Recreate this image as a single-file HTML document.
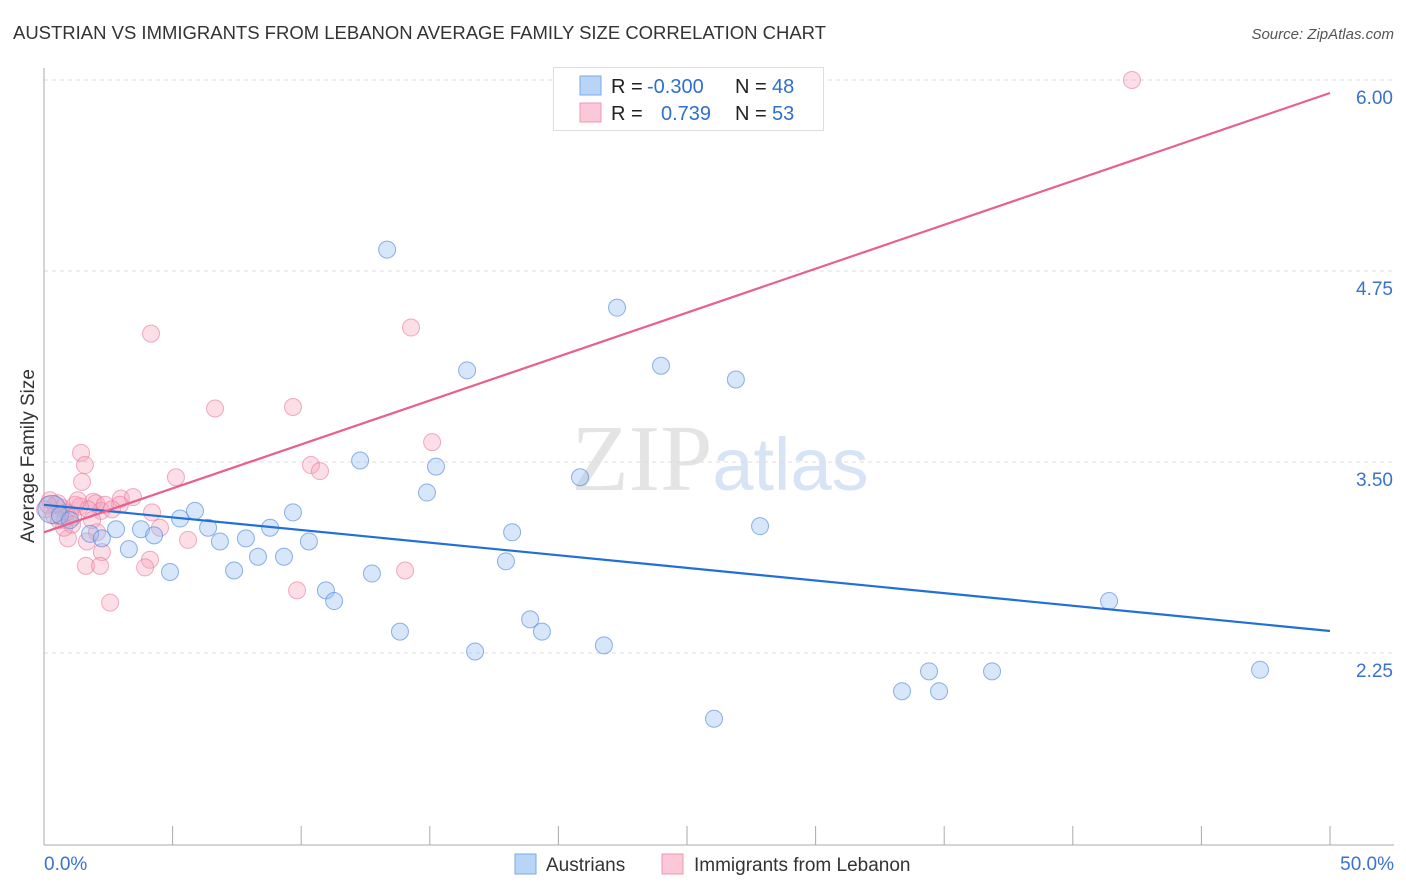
<!DOCTYPE html>
<html><head><meta charset="utf-8"><style>
body{margin:0;background:#fff;font-family:"Liberation Sans",sans-serif;}
svg{display:block}
</style></head><body>
<svg id="chart" width="1406" height="892" xmlns="http://www.w3.org/2000/svg">
<text x="13" y="39" font-size="18" fill="#333" textLength="813" lengthAdjust="spacingAndGlyphs">AUSTRIAN VS IMMIGRANTS FROM LEBANON AVERAGE FAMILY SIZE CORRELATION CHART</text>
<text x="1394" y="39" font-size="15" fill="#555" font-style="italic" text-anchor="end">Source: ZipAtlas.com</text>
<text x="720" y="490" font-size="94" text-anchor="middle" fill="#e4e4e4" font-family="Liberation Serif,serif">ZIP<tspan fill="#d6e4f5" font-family="Liberation Sans,sans-serif" font-size="74">atlas</tspan></text>
<g id="grid"></g>
<g id="axes"></g>
<g id="pts"></g>
<g id="trends"></g>
<text transform="translate(34,456) rotate(-90)" font-size="19" fill="#333" text-anchor="middle">Average Family Size</text>
<g>
<rect x="553.5" y="67.5" width="270" height="63" fill="#fff" stroke="#ddd"/>
<rect x="580" y="76" width="21" height="19" fill="#b8d4f6" stroke="#7aaae8"/>
<rect x="580" y="103" width="21" height="19" fill="#fbc8d8" stroke="#ee9ab4"/>
<text x="611" y="93" font-size="20" fill="#222">R = <tspan x="647" fill="#2f6fd0">-0.300</tspan><tspan x="735">N = </tspan><tspan x="772" fill="#2f6fd0">48</tspan></text>
<text x="611" y="120" font-size="20" fill="#222">R = <tspan x="661" fill="#2f6fd0">0.739</tspan><tspan x="735">N = </tspan><tspan x="772" fill="#2f6fd0">53</tspan></text>
</g>
<g>
<rect x="515" y="854" width="21" height="20" fill="#b8d4f6" stroke="#7aaae8"/>
<text x="546" y="871" font-size="19" fill="#333">Austrians</text>
<rect x="662" y="854" width="21" height="20" fill="#fbc8d8" stroke="#ee9ab4"/>
<text x="694" y="871" font-size="19" fill="#333">Immigrants from Lebanon</text>
</g>
</svg>
<script>
const yTicks=[6.00,4.75,3.50,2.25];
const xTickLabels=["0.0%","50.0%"];
const blueX=[13.34,22.28,16.45,23.99,26.90,12.29,15.24,20.84,14.89,18.20,27.84,5.87,5.29,6.38,9.68,3.77,2.80,4.28,1.79,2.25,3.30,6.84,7.85,8.79,10.30,8.32,9.33,17.96,4.90,7.39,12.75,10.96,11.28,41.41,18.90,19.36,13.84,21.77,16.76,34.41,36.86,47.28,33.36,34.80,26.05,0.31,0.62,1.01];
const blueY=[4.89,4.51,4.10,4.13,4.04,3.51,3.47,3.40,3.30,3.04,3.08,3.18,3.13,3.07,3.17,3.06,3.06,3.02,3.03,3.00,2.93,2.98,3.00,3.07,2.98,2.88,2.88,2.85,2.78,2.79,2.77,2.66,2.59,2.59,2.47,2.39,2.39,2.30,2.26,2.13,2.13,2.14,2.00,2.00,1.82,3.19,3.15,3.12];
const pinkX=[42.30,4.16,14.27,6.65,9.68,15.09,1.44,1.59,10.38,10.73,5.13,1.48,2.99,3.46,1.91,2.02,2.95,1.40,2.22,4.20,4.51,1.01,0.70,0.43,0.23,0.82,1.21,1.71,0.04,0.93,2.06,1.67,5.60,2.25,4.12,3.93,1.63,2.18,14.04,9.84,2.57,0.54,0.86,1.13,1.32,2.37,1.87,2.64,0.39,0.16,0.58,1.09,0.78];
const pinkY=[6.00,4.34,4.38,3.85,3.86,3.63,3.56,3.48,3.48,3.44,3.40,3.37,3.26,3.27,3.24,3.23,3.22,3.21,3.18,3.17,3.07,3.16,3.20,3.22,3.25,3.12,3.22,3.19,3.19,3.00,3.04,2.98,2.99,2.91,2.86,2.81,2.82,2.82,2.79,2.66,2.58,3.23,3.17,3.14,3.25,3.22,3.12,3.19,3.15,3.22,3.12,3.09,3.07];
const blueTrend=[3.22,2.394];
const pinkTrend=[3.04,5.915];
const NS="http://www.w3.org/2000/svg";
const X0=44,X1=1330;
function sx(v){return X0+(v/50)*(X1-X0);}
function sy(v){return 80+(6-v)*152.8;}
function mk(t,a,p){const e=document.createElementNS(NS,t);for(const k in a)e.setAttribute(k,a[k]);p.appendChild(e);return e;}
const grid=document.getElementById('grid'),axes=document.getElementById('axes');
yTicks.forEach(v=>{
 const l=mk('line',{x1:X0,x2:1394,y1:sy(v),y2:sy(v),stroke:'#ddd','stroke-dasharray':'4,4'},grid);
 
 
 const t=mk('text',{x:1393,y:sy(v)+24,'font-size':19,fill:'#3a72cf','text-anchor':'end'},axes);
 t.textContent=v.toFixed(2);
 
 
});
mk('line',{x1:X0,x2:X0,y1:68,y2:845,stroke:'#aaa'},axes);
mk('line',{x1:X0,x2:1394,y1:845,y2:845,stroke:'#aaa'},axes);
for(let i=0;i<=10;i++){const x=sx(i*5);mk('line',{x1:x,x2:x,y1:826,y2:845,stroke:'#aaa'},axes);}
const tl=mk('text',{x:44,y:870,'font-size':19,fill:'#3a72cf'},axes);tl.textContent=xTickLabels[0];


const tr=mk('text',{x:1394,y:870,'font-size':19,fill:'#3a72cf','text-anchor':'end'},axes);tr.textContent=xTickLabels[1];


const pts=document.getElementById('pts');
pinkX.forEach((v,i)=>{
 const c=mk('circle',{cx:sx(v),cy:sy(pinkY[i]),r:8.5,fill:'rgba(246,160,186,0.35)',stroke:'rgba(232,120,156,0.6)','stroke-width':1},pts);
 
 
});
blueX.forEach((v,i)=>{
 const c=mk('circle',{cx:sx(v),cy:sy(blueY[i]),r:i==45?14:8.5,fill:'rgba(150,190,240,0.38)',stroke:'rgba(70,130,220,0.6)','stroke-width':1},pts);
 
 
});
const trg=document.getElementById('trends');
const bl=mk('line',{x1:sx(0),y1:sy(blueTrend[0]),x2:sx(50),y2:sy(blueTrend[1]),stroke:'#2070d8','stroke-width':2.2},trg);


const pl=mk('line',{x1:sx(0),y1:sy(pinkTrend[0]),x2:sx(50),y2:sy(pinkTrend[1]),stroke:'#e8608c','stroke-width':2.2},trg);


</script>
</body></html>
